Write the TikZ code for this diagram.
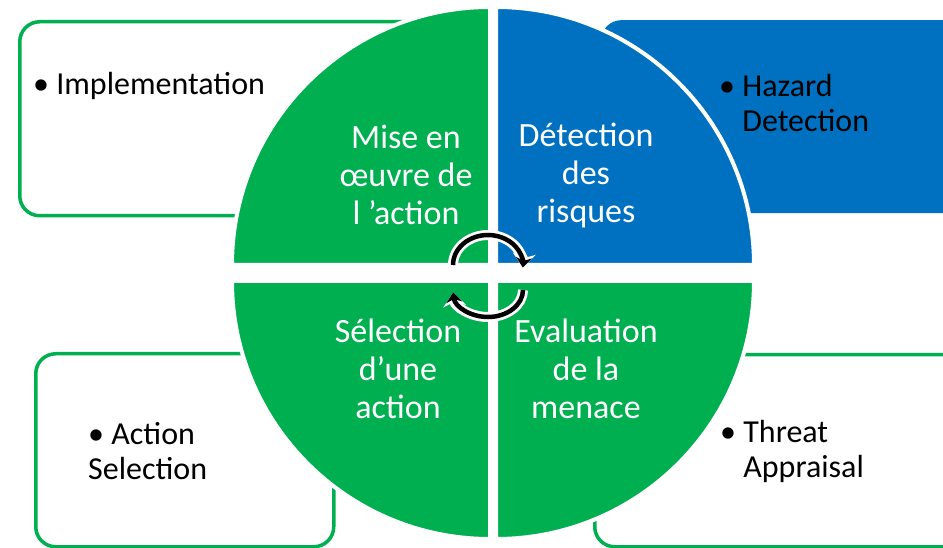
\documentclass[tikz,border=0pt]{standalone}
\usepackage{fontspec}
\setmainfont{Carlito}
\usetikzlibrary{arrows.meta}
\definecolor{pgreen}{RGB}{0,176,80}
\definecolor{pblue}{RGB}{0,112,192}
\tikzset{
  outbox/.style={draw=pgreen,line width=3.5pt,fill=white,rounded corners=20pt,anchor=north west,inner sep=0pt},
  bluebox/.style={fill=pblue,rounded corners=20pt,anchor=north west,inner sep=0pt},
  quarter/.style={draw=white,line width=4pt},
  intext/.style={text=white,align=center,font=\fontsize{34}{38}\selectfont},
  outtext/.style={align=left,anchor=west,inner sep=0pt,font=\fontsize{32}{35}\selectfont},
  cycarrow/.style={line width=4.5pt,-{Stealth[length=10pt,width=16pt]},
    preaction={draw=white,line width=10pt,-{Stealth[length=14pt,width=23pt]}}}
}
\newcommand{\hang}{\phantom{\textbullet~}}

\begin{document}
\begin{tikzpicture}[x=1pt,y=1pt]
   \useasboundingbox (0,0) rectangle (943,547);
   \node[outbox,minimum width=460pt,minimum height=194pt] (implbox) at (18,527) {};
   \node[bluebox,minimum width=370pt,minimum height=193pt] (hazbox) at (601,527) {};
   \node[outbox,minimum width=298pt,minimum height=193pt] (actbox) at (34,195) {};
   \node[outbox,minimum width=370pt,minimum height=192pt] (thrbox) at (593,194) {};
   % the four quarters
   \filldraw[quarter,fill=pgreen] (490,282) -- (232,282) arc[start angle=180,end angle=90,radius=258] -- cycle;
   \filldraw[quarter,fill=pblue] (496,282) -- (496,540) arc[start angle=90,end angle=0,radius=258] -- cycle;
   \filldraw[quarter,fill=pgreen] (490,266) -- (232,266) arc[start angle=180,end angle=270,radius=258] -- cycle;
   \filldraw[quarter,fill=pgreen] (496,266) -- (496,8) arc[start angle=270,end angle=360,radius=258] -- cycle;
   \node[intext] (mise) at (406,372) {Mise en\\œuvre de\\l ’action};
   \node[intext] (detect) at (586,372) {Détection\\des\\risques};
   \node[intext] (select) at (398,178) {Sélection\\d’une\\action};
   \node[intext] (evalu) at (586,178) {Evaluation\\de la\\menace};
   \node[outtext] (impl) at (33,461) {\textbullet~Implementation};
   \node[outtext] (hazard) at (719,443.5) {\textbullet~Hazard\\\hang Detection};
   \node[outtext] (action) at (88,96) {\textbullet~Action\\Selection};
   \node[outtext] (threat) at (720,96) {\textbullet~Threat\\\hang Appraisal};
   \draw[cycarrow] (453,282) arc[start angle=180,end angle=-5,x radius=35,y radius=30];
   \draw[cycarrow] (523,257) arc[start angle=0,end angle=-175,x radius=35,y radius=27];
\end{tikzpicture}
\end{document}
